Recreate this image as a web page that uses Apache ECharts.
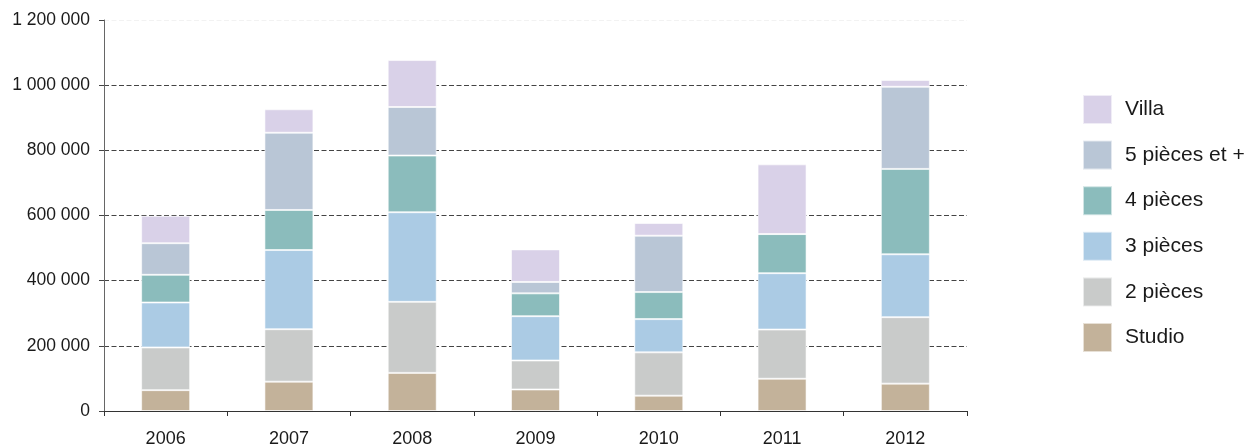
<!DOCTYPE html>
<html>
<head>
<meta charset="utf-8">
<script src="https://cdn.jsdelivr.net/npm/echarts@6/dist/echarts.min.js"></script>
<style>
  html, body { margin: 0; padding: 0; background: #fff; }
  #main { width: 1257px; height: 448px; }
</style>
</head>
<body>
<div id="main"></div>
<script>
// données
var years = ['2006', '2007', '2008', '2009', '2010', '2011', '2012'];
var studio = [64000, 90000, 117000, 66000, 47000, 99000, 84000];
var deuxPieces = [131000, 161000, 218000, 89000, 133000, 151000, 204000];
var troisPieces = [138000, 243000, 275000, 136000, 102000, 173000, 193000];
var quatrePieces = [85000, 123000, 174000, 70000, 83000, 120000, 262000];
var cinqPieces = [97000, 237000, 149000, 35000, 173000, 0, 252000];
var villa = [84000, 72000, 144000, 100000, 39000, 214000, 21000];
var yTicks = [0, 200000, 400000, 600000, 800000, 1000000, 1200000];

var seriesNames = ['Studio', '2 pièces', '3 pièces', '4 pièces', '5 pièces et +', 'Villa'];
var seriesData = [studio, deuxPieces, troisPieces, quatrePieces, cinqPieces, villa];
var colors = ['#c3b29a', '#c9cbca', '#abcbe4', '#8bbcbc', '#b9c6d6', '#d9d1e8'];

function fmt(v) {
  return String(v).replace(/\B(?=(\d{3})+(?!\d))/g, ' ');
}

var myChart = echarts.init(document.getElementById('main'));

var series = seriesNames.map(function (name, i) {
  return {
    name: name,
    type: 'bar',
    stack: 'total',
    barWidth: 49,
    data: seriesData[i],
    itemStyle: {
      color: colors[i],
      borderColor: 'rgba(255,255,255,0.6)',
      borderWidth: 1
    }
  };
});

var option = {
  animation: false,
  textStyle: { fontFamily: '"Liberation Sans", Arial, sans-serif' },
  grid: { left: 104, right: 290, top: 20, bottom: 37 },
  legend: {
    orient: 'vertical',
    left: 1082,
    top: 94,
    padding: 0,
    itemWidth: 29,
    itemHeight: 29,
    itemGap: 14.6,
    data: seriesNames.slice().reverse(),
    icon: 'rect',
    textStyle: { fontSize: 21, color: '#1a1a1a', padding: [0, 0, 0, 8] }
  },
  xAxis: {
    type: 'category',
    data: years,
    axisLine: { lineStyle: { color: '#333', width: 1 } },
    axisTick: { show: true, length: 5, lineStyle: { color: '#333' } },
    axisLabel: { fontSize: 18, color: '#1a1a1a', margin: 19 }
  },
  yAxis: {
    type: 'value',
    min: yTicks[0],
    max: yTicks[yTicks.length - 1],
    interval: 200000,
    axisLine: { show: true, lineStyle: { color: '#666', width: 1 } },
    axisTick: { show: true, length: 5, lineStyle: { color: '#444' } },
    axisLabel: {
      fontSize: 17.5,
      color: '#1a1a1a',
      margin: 14,
      formatter: function (v) { return fmt(v); }
    },
    splitLine: {
      show: true,
      lineStyle: {
        type: [5, 2.5],
        color: ['#444', '#444', '#444', '#444', '#444', '#444', '#f2f2f2'],
        width: 1
      }
    }
  },
  series: series
};

myChart.setOption(option);
</script>
</body>
</html>
